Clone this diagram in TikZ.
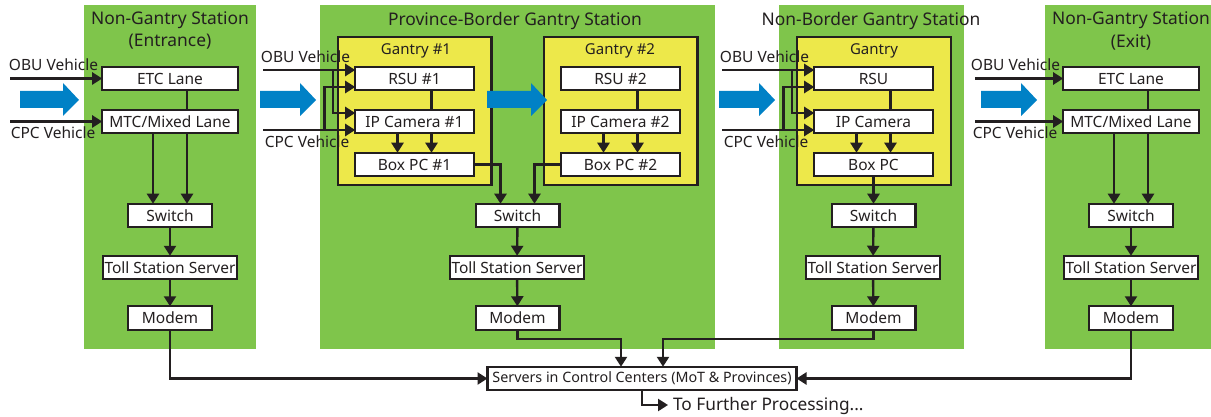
\documentclass[tikz,border=0pt]{standalone}
\usepackage{fontspec}
\setmainfont{Noto Sans}
\usetikzlibrary{arrows.meta,calc}
\definecolor{panelgreen}{HTML}{7FC54B}
\definecolor{gantryyellow}{HTML}{EDE84A}
\definecolor{flowblue}{HTML}{0081C6}
\definecolor{ink}{HTML}{231F20}
\tikzset{
  panel/.style={fill=panelgreen,draw=none,inner sep=0pt,outer sep=0pt},
  gantrybox/.style={fill=gantryyellow,draw=ink,line width=2.4pt,inner sep=0pt,outer sep=0pt},
  unit/.style={fill=white,draw=ink,line width=2.4pt,inner sep=0pt,outer sep=0pt,minimum height=23.5pt,text=ink,font=\fontsize{15.5}{18}\selectfont},
  lane/.style={unit,minimum width=135.6pt},
  inner unit/.style={unit,minimum width=118.6pt},
  switchbox/.style={unit,minimum width=83.6pt},
  server/.style={unit,minimum width=133.6pt},
  label/.style={inner sep=0pt,outer sep=0pt,text=ink,font=\fontsize{15.5}{18}\selectfont},
  title/.style={inner sep=0pt,outer sep=0pt,text=ink,font=\fontsize{17.4}{20}\selectfont},
  wire/.style={draw=ink,line width=2.4pt},
  arrowwire/.style={wire,-{Triangle[length=10pt,width=12pt]}},
  flow/.style={fill=flowblue,draw=none}
}
\newcommand{\flowarrow}[2]{% left x, right x
  \fill[flow] (#1,91) -- (#2-16,91) -- (#2-16,83) -- (#2,100) -- (#2-16,116) -- (#2-16,108) -- (#1,108) -- cycle;}
\begin{document}
\begin{tikzpicture}[x=1pt,y=-1pt]
\useasboundingbox (0,0) rectangle (1211,417);
\fill[white] (0,0) rectangle (1211,417);
% panels
\fill[panel] (84,5) rectangle (256,349);
\fill[panel] (320,5) rectangle (715,349);
\fill[panel] (779,5) rectangle (964,349);
\fill[panel] (1045,5) rectangle (1211,349);
% gantry frames
\node[gantrybox,minimum width=153.6pt,minimum height=148pt] (g1) at (414.8,111) {};
\node[gantrybox,minimum width=153.6pt,minimum height=148pt] (g2) at (620.5,111) {};
\node[gantrybox,minimum width=153.6pt,minimum height=148pt] (g3) at (874,111) {};
% flow arrows
\flowarrow{20}{79}
\flowarrow{260}{316}
\flowarrow{719}{775}
\flowarrow{981}{1037}
% titles
\node[title] (t1a) at (170,20.5) {Non-Gantry Station};
\node[title] (t1b) at (170,42) {(Entrance)};
\node[title] (t2) at (515,21) {Province-Border Gantry Station};
\node[title] (t3) at (871,20.5) {Non-Border Gantry Station};
\node[title] (t4a) at (1131,20.5) {Non-Gantry Station};
\node[title] (t4b) at (1131,42) {(Exit)};
\node[label,font=\fontsize{15}{18}\selectfont] (g1l) at (416,50.5) {Gantry \#1};
\node[label,font=\fontsize{15}{18}\selectfont] (g2l) at (620,50.5) {Gantry \#2};
\node[label,font=\fontsize{15}{18}\selectfont] (g3l) at (874,50.5) {Gantry};
% station 1
\node[lane] (etc1) at (170,78.5) {ETC Lane};
\node[lane] (mtc1) at (170,121.5) {MTC/Mixed Lane};
\node[switchbox] (sw1) at (170,215.5) {Switch};
\node[server] (ts1) at (170,267.5) {Toll Station Server};
\node[switchbox] (mo1) at (170,318) {Modem};
% station 2
\node[inner unit] (rsu1) at (414.5,78.5) {RSU \#1};
\node[inner unit] (ip1) at (414.5,121.5) {IP Camera \#1};
\node[inner unit] (pc1) at (414.5,164.5) {Box PC \#1};
\node[inner unit] (rsu2) at (620.5,78.5) {RSU \#2};
\node[inner unit] (ip2) at (620.5,121.5) {IP Camera \#2};
\node[inner unit] (pc2) at (620.5,164.5) {Box PC \#2};
\node[switchbox] (sw2) at (517.5,215.5) {Switch};
\node[server] (ts2) at (517,267.5) {Toll Station Server};
\node[switchbox] (mo2) at (517.5,318) {Modem};
% station 3
\node[inner unit] (rsu3) at (873.5,78.5) {RSU};
\node[inner unit] (ip3) at (873.5,121.5) {IP Camera};
\node[inner unit] (pc3) at (873.5,164.5) {Box PC};
\node[switchbox] (sw3) at (873.5,215.5) {Switch};
\node[server] (ts3) at (873,267.5) {Toll Station Server};
\node[switchbox] (mo3) at (873.5,318) {Modem};
% station 4
\node[lane] (etc4) at (1131,78.5) {ETC Lane};
\node[lane] (mtc4) at (1131,121.5) {MTC/Mixed Lane};
\node[switchbox] (sw4) at (1131,215.5) {Switch};
\node[server] (ts4) at (1131,267.5) {Toll Station Server};
\node[switchbox] (mo4) at (1131,318) {Modem};
% control centre
\node[unit,minimum width=309pt,font=\fontsize{14.3}{17}\selectfont] (srv) at (642,378.5) {Servers in Control Centers (MoT \& Provinces)};
\node[label,anchor=west,font=\fontsize{17.3}{20}\selectfont] (further) at (673,406) {To Further Processing...};
\coordinate (furtherin) at (668,405);
% vehicle labels
\node[label] (o1) at (53.5,65) {OBU Vehicle};
\node[label] (c1) at (53,133) {CPC Vehicle};
\node[label] (o2) at (305.5,56.5) {OBU Vehicle};
\node[label] (c2) at (307,141.5) {CPC Vehicle};
\node[label] (o3) at (764.5,56.5) {OBU Vehicle};
\node[label] (c3) at (766,141.5) {CPC Vehicle};
\node[label] (o4) at (1015.5,65) {OBU Vehicle};
\node[label] (c4) at (1015,133) {CPC Vehicle};
% free ends
\coordinate (ob1) at (10,78.5);
\coordinate (cb1) at (10,121.5);
\coordinate (ob2) at (263,70);
\coordinate (cb2) at (263,130);
\coordinate (ob3) at (722,70);
\coordinate (cb3) at (722,130);
\coordinate (ob4) at (975,78.5);
\coordinate (cb4) at (975,121.5);
% station 1 wires
\draw[arrowwire] (ob1) -- (etc1.west);
\draw[arrowwire] (cb1) -- (mtc1.west);
\draw[wire] ([xshift=17pt]etc1.south) -- ([xshift=17pt]mtc1.north);
\draw[arrowwire] ([xshift=-17pt]mtc1.south) -- ([xshift=-17pt]sw1.north);
\draw[arrowwire] ([xshift=17pt]mtc1.south) -- ([xshift=17pt]sw1.north);
\draw[arrowwire] (sw1) -- (ts1);
\draw[arrowwire] (ts1) -- (mo1);
% station 4 wires
\draw[arrowwire] (ob4) -- (etc4.west);
\draw[arrowwire] (cb4) -- (mtc4.west);
\draw[wire] ([xshift=17pt]etc4.south) -- ([xshift=17pt]mtc4.north);
\draw[arrowwire] ([xshift=-17pt]mtc4.south) -- ([xshift=-17pt]sw4.north);
\draw[arrowwire] ([xshift=17pt]mtc4.south) -- ([xshift=17pt]sw4.north);
\draw[arrowwire] (sw4) -- (ts4);
\draw[arrowwire] (ts4) -- (mo4);
% station 2 wires
\draw[arrowwire] (ob2) -- ([yshift=8.5pt]rsu1.west);
\draw[arrowwire] (cb2) -- ([yshift=-8.5pt]ip1.west);
\draw[arrowwire] ($(ob2)+(70,0)$) |- ([yshift=8.5pt]ip1.west);
\draw[arrowwire] ($(cb2)+(61.5,0)$) |- ([yshift=-8.5pt]rsu1.west);
\draw[wire] ([xshift=17pt]rsu1.south) -- ([xshift=17pt]ip1.north);
\draw[arrowwire] ([xshift=-17pt]ip1.south) -- ([xshift=-17pt]pc1.north);
\draw[arrowwire] ([xshift=17pt]ip1.south) -- ([xshift=17pt]pc1.north);
\draw[wire] ([xshift=17pt]rsu2.south) -- ([xshift=17pt]ip2.north);
\draw[arrowwire] ([xshift=-17pt]ip2.south) -- ([xshift=-17pt]pc2.north);
\draw[arrowwire] ([xshift=17pt]ip2.south) -- ([xshift=17pt]pc2.north);
\draw[arrowwire] (pc1.east) -| ([xshift=-17pt]sw2.north);
\draw[arrowwire] (pc2.west) -| ([xshift=17pt]sw2.north);
\draw[arrowwire] (sw2) -- (ts2);
\draw[arrowwire] (ts2) -- (mo2);
% station 3 wires
\draw[arrowwire] (ob3) -- ([yshift=8.5pt]rsu3.west);
\draw[arrowwire] (cb3) -- ([yshift=-8.5pt]ip3.west);
\draw[arrowwire] ($(ob3)+(70,0)$) |- ([yshift=8.5pt]ip3.west);
\draw[arrowwire] ($(cb3)+(61.5,0)$) |- ([yshift=-8.5pt]rsu3.west);
\draw[wire] ([xshift=17pt]rsu3.south) -- ([xshift=17pt]ip3.north);
\draw[arrowwire] ([xshift=-17pt]ip3.south) -- ([xshift=-17pt]pc3.north);
\draw[arrowwire] ([xshift=17pt]ip3.south) -- ([xshift=17pt]pc3.north);
\draw[arrowwire] (pc3) -- (sw3);
\draw[arrowwire] (sw3) -- (ts3);
\draw[arrowwire] (ts3) -- (mo3);
% to control centre
\draw[arrowwire] (mo1.south) |- (srv.west);
\draw[arrowwire] (mo4.south) |- (srv.east);
\draw[arrowwire] (mo2.south) -- ++(0,9) -| ([xshift=-21pt]srv.north);
\draw[arrowwire] (mo3.south) -- ++(0,9) -| ([xshift=21pt]srv.north);
\draw[arrowwire] (srv.south) |- (furtherin);
% gantry-crossing flow arrow on top
\flowarrow{487}{547}
\end{tikzpicture}
\end{document}
